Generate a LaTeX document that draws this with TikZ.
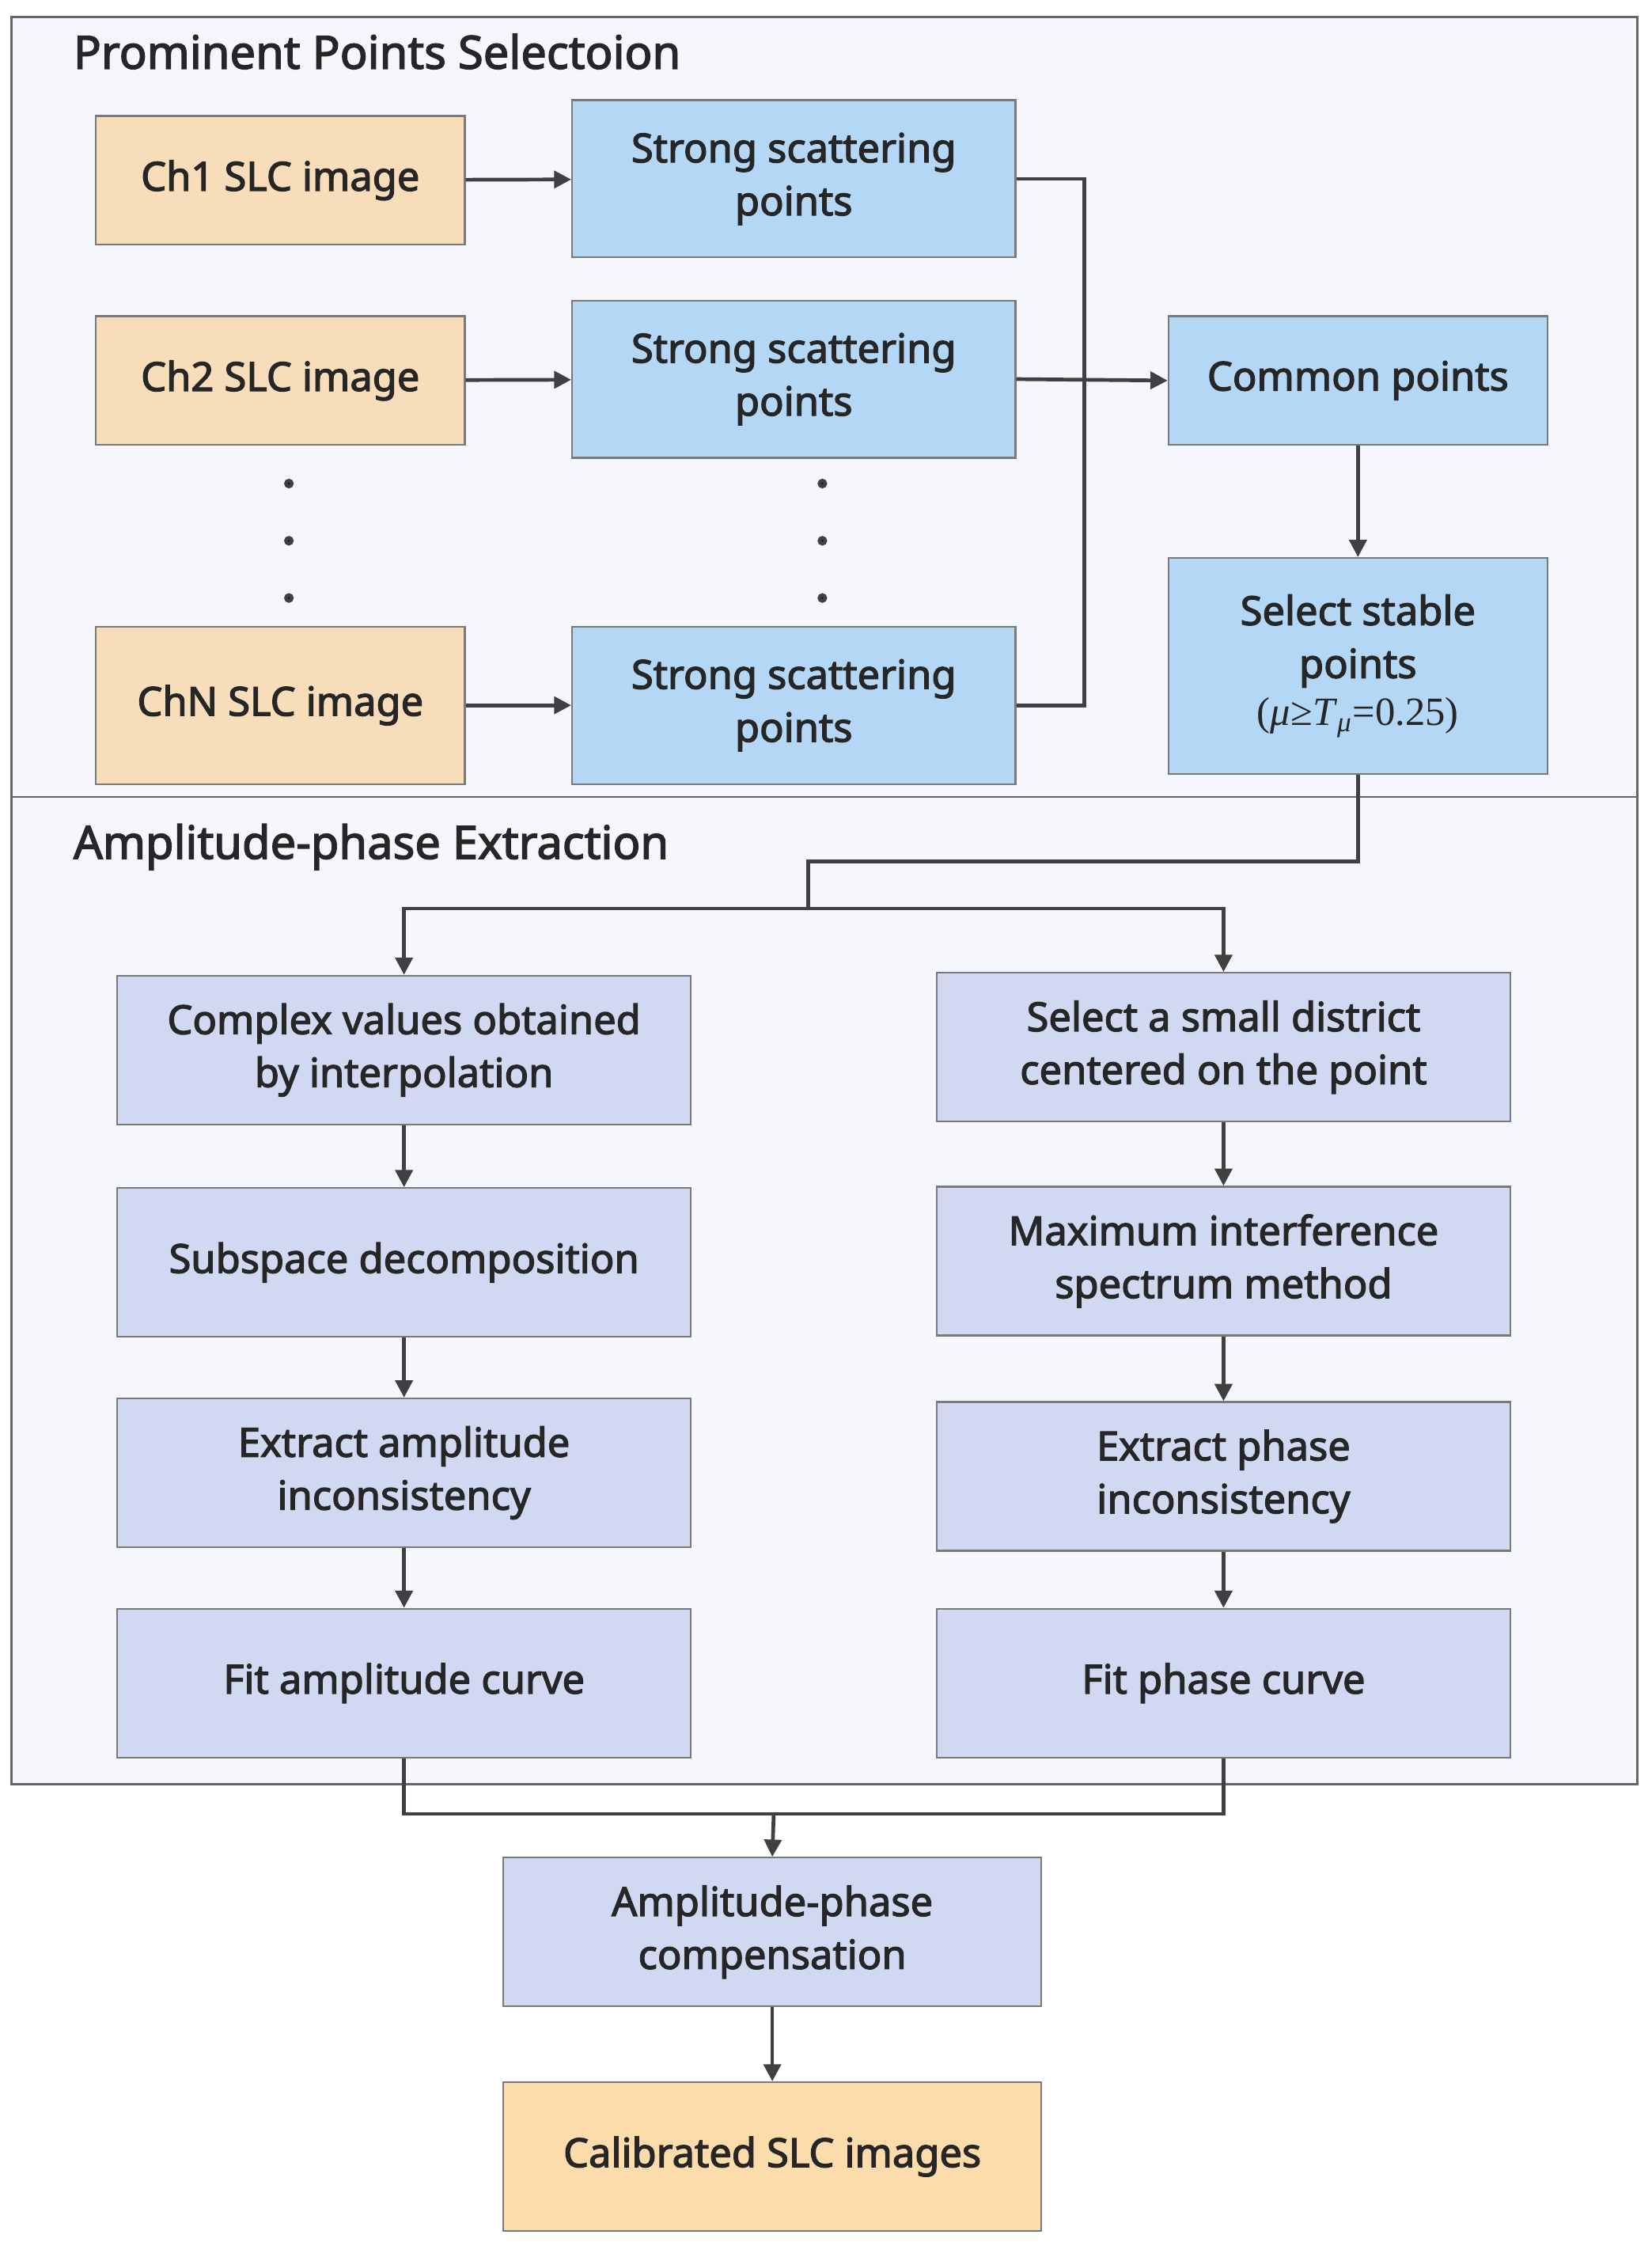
\documentclass[tikz,border=0pt]{standalone}
\usepackage{fontspec}
\setmainfont{Noto Sans}[BoldFont={Noto Sans}, BoldFeatures={FakeBold=2.5}]
\newfontfamily\lsr{Liberation Serif}
\usetikzlibrary{positioning,arrows.meta}
\definecolor{chbox}{HTML}{F8DDBA}
\definecolor{strong}{HTML}{B4D7F5}
\definecolor{lav}{HTML}{D0D8F2}
\definecolor{calib}{HTML}{FCDCAA}
\definecolor{panel}{HTML}{F5F7FC}
\definecolor{ln}{HTML}{404040}
\tikzset{every picture/.style={line width=0.75pt}}
\tikzset{
  box/.style={draw=ln!70, line width=0.6pt, align=center, inner sep=0pt,
    font=\fontsize{14}{18.5}\selectfont\bfseries, text=black!85},
  chb/.style={box, fill=chbox, minimum width=129pt, minimum height=45pt},
  stb/.style={box, fill=strong, minimum width=155pt, minimum height=55pt},
  rb/.style={box, fill=strong, minimum width=132.5pt},
  lb/.style={box, fill=lav, minimum width=200.5pt, minimum height=52pt},
  arr/.style={draw=ln, line width=1.3pt, -{Triangle[length=6pt,width=6pt]}},
  ln/.style={draw=ln, line width=1.3pt},
  ttl/.style={anchor=west, font=\fontsize{16}{19}\selectfont\bfseries, text=black!85}
}
\begin{document}
\begin{tikzpicture}[x=0.5pt,y=-0.5pt]
\useasboundingbox (0,0) rectangle (1155,1570);

% panels
\draw[fill=panel, draw=ln!80] (8,12) rectangle (1145,557);
\draw[fill=panel, draw=ln!80] (8,557) rectangle (1145,1247);
\node[ttl] at (44,36) {Prominent Points Selectoion};
\node[ttl] at (44,592) {Amplitude-phase Extraction};

% first stage
\node[chb] (ch1) at (196,126) {Ch1 SLC image};
\node[chb] (ch2) at (196,266) {Ch2 SLC image};
\node[chb, minimum height=55pt] (chn) at (196,493) {ChN SLC image};
\node[stb] (s1) at (555,125) {Strong scattering\\points};
\node[stb] (s2) at (555,265) {Strong scattering\\points};
\node[stb] (sn) at (555,493) {Strong scattering\\points};
\node[rb, minimum height=45pt] (com) at (949.5,266) {Common points};
\node[rb, minimum height=75.5pt] (sel) at (949.5,465.5) {Select stable\\points\\[-2pt]{\lsr\mdseries\fontsize{14}{17}\selectfont(\textit{μ}≥\textit{T}\textsubscript{\textit{μ}}=0.25)}};
\foreach \y in {338,378,418} {
  \fill[ln] (202,\y) circle (2);
  \fill[ln] (575,\y) circle (2);
}
\draw[arr] (ch1) -- (s1);
\draw[arr] (ch2) -- (s2);
\draw[arr] (chn) -- (sn);
\draw[ln] (s1.east) -| (758,493) -- (sn.east);
\draw[arr] (s2.east) -- (com.west);
\draw[arr] (com) -- (sel);

% second stage
\node[lb] (a1) at (282.5,734) {Complex values obtained\\by interpolation};
\node[lb] (a2) at (282.5,882.5) {Subspace decomposition};
\node[lb] (a3) at (282.5,1029.5) {Extract amplitude\\inconsistency};
\node[lb] (a4) at (282.5,1176.5) {Fit amplitude curve};
\node[lb] (p1) at (855.5,732) {Select a small district\\centered on the point};
\node[lb] (p2) at (855.5,881.5) {Maximum interference\\spectrum method};
\node[lb] (p3) at (855.5,1032) {Extract phase\\inconsistency};
\node[lb] (p4) at (855.5,1176.5) {Fit phase curve};
\coordinate (split) at (565,635);
\draw[ln] (sel.south) |- (565,602) -- (split);
\draw[arr] (split) -| (a1.north);
\draw[arr] (split) -| (p1.north);
\draw[arr] (a1) -- (a2);
\draw[arr] (a2) -- (a3);
\draw[arr] (a3) -- (a4);
\draw[arr] (p1) -- (p2);
\draw[arr] (p2) -- (p3);
\draw[arr] (p3) -- (p4);

% output
\node[lb, minimum width=188pt] (comp) at (540,1350.5) {Amplitude-phase\\compensation};
\node[lb, minimum width=188pt, fill=calib] (cal) at (540,1507.5) {Calibrated SLC images};
\coordinate (join) at (541,1268);
\draw[ln] (a4.south) |- (join) -| (p4.south);
\draw[arr] (join) -- (comp.north);
\draw[arr] (comp) -- (cal);
\end{tikzpicture}
\end{document}
